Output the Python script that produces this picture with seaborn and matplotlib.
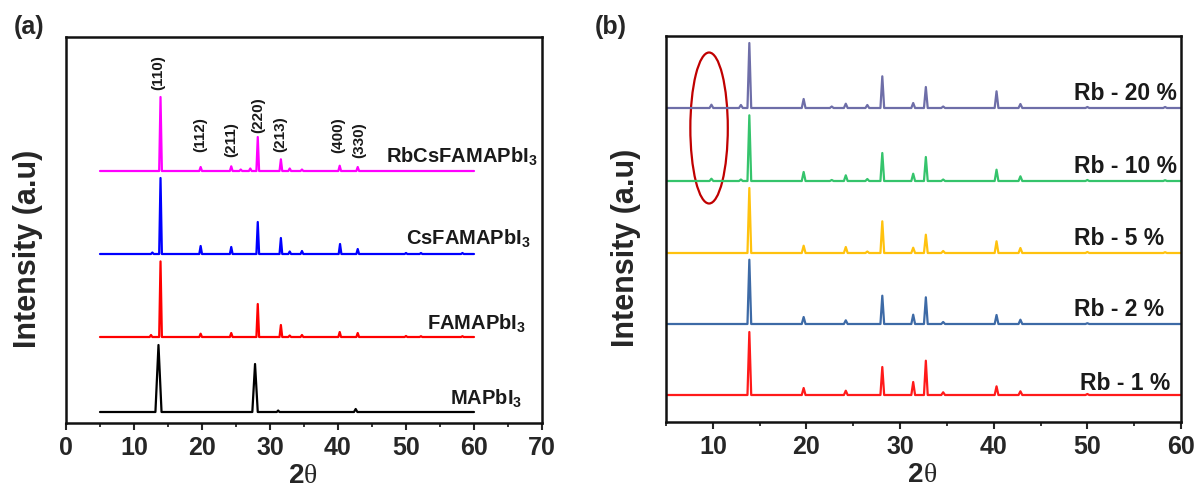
import numpy as np
import matplotlib
matplotlib.use("Agg")
import matplotlib.pyplot as plt
from matplotlib.patches import Ellipse
from matplotlib.ticker import MultipleLocator
import seaborn as sns

# ---------------- data: panel (a) ----------------
a_names = ["MAPbI$_3$", "FAMAPbI$_3$", "CsFAMAPbI$_3$", "RbCsFAMAPbI$_3$"]
a_colors = ["#000000", "#ff0000", "#0000ff", "#ff00ff"]
a_offsets = [11, 86, 169, 252]

mapbi3_pos = [13.6, 27.8, 31.2, 42.6]
mapbi3_int = [67, 48, 1.5, 3]
mapbi3_hw = [0.45, 0.4, 0.2, 0.25]

famapbi3_pos = [12.5, 13.9, 19.8, 24.3, 28.2, 31.6, 32.9, 34.7, 40.25, 42.9, 50.0, 52.2, 58.3]
famapbi3_int = [2, 75.6, 3.3, 4, 33, 12, 1.5, 2, 5, 4, 1, 0.8, 0.8]

csfamapbi3_pos = [12.7, 13.9, 19.8, 24.3, 28.2, 31.6, 32.9, 34.7, 40.3, 42.9, 50.0, 52.2, 58.3]
csfamapbi3_int = [1.5, 76, 8, 7, 32, 16, 2.5, 3, 10, 5, 1, 1, 1]

rbcsfamapbi3_pos = [13.9, 19.8, 24.3, 25.7, 27.1, 28.2, 31.6, 32.9, 34.7, 40.25, 42.9]
rbcsfamapbi3_int = [74, 4, 4.7, 1.5, 2.5, 34, 11.7, 2.5, 1.5, 5.3, 4]

hkl_labels = ["(110)", "(112)", "(211)", "(220)", "(213)", "(400)", "(330)"]
hkl_pos = [13.6, 19.8, 24.3, 28.2, 31.5, 40.0, 43.1]
hkl_label_y = [333, 271, 266, 290, 271, 270, 265]

# ---------------- data: panel (b) ----------------
b_names = ["Rb - 1 %", "Rb - 2 %", "Rb - 5 %", "Rb - 10 %", "Rb - 20 %"]
b_colors = ["#ff1a1a", "#3d6aa6", "#ffc20e", "#35c46c", "#6e6ea8"]
b_offsets = [27, 98, 169, 241, 314]

rb1_pos = [13.9, 19.7, 24.2, 28.1, 31.4, 32.75, 34.6, 40.3, 42.85, 50.0]
rb1_int = [63, 7, 4.3, 28, 13, 34.3, 2.7, 8.7, 3.7, 1]

rb2_pos = [13.9, 19.7, 24.2, 28.1, 31.4, 32.75, 34.6, 40.3, 42.85, 50.0]
rb2_int = [64.3, 7, 3.7, 28.3, 9.3, 26.7, 2, 9, 4.3, 0.8]

rb5_pos = [13.9, 19.7, 24.2, 26.5, 28.1, 31.4, 32.75, 34.6, 40.3, 42.85, 50.0, 58.3]
rb5_int = [65, 7.3, 6, 1.5, 31.7, 5.3, 18.3, 2, 11.7, 5, 1, 0.8]

rb10_pos = [9.85, 13.0, 13.9, 19.7, 22.7, 24.2, 26.5, 28.1, 31.4, 32.75, 34.6, 40.3, 42.85, 50.0, 58.3]
rb10_int = [2.3, 1.5, 65.7, 9, 1, 5.7, 2, 28, 7.3, 24, 1.5, 11.3, 4.7, 1, 0.8]

rb20_pos = [9.85, 13.0, 13.9, 19.7, 22.7, 24.2, 26.5, 28.1, 31.4, 32.75, 34.6, 40.3, 42.85, 50.0, 58.3]
rb20_int = [3.3, 3, 65, 9, 1.5, 4.3, 3, 31.7, 5, 21, 1.5, 16.7, 4, 1, 1]

b_label_x = [49.2, 48.6, 48.6, 48.6, 48.6]
b_label_y = [32, 106, 177, 249, 322]
a_label_x = [67.1, 67.6, 68.3, 69.4]
a_label_y = [18, 93, 178, 260]

scan_start, scan_end = 5.0, 60.0


def stick_trace(pos, inten, half_width=0.2):
    """Polyline through each reflection apex, returning to the baseline."""
    if np.isscalar(half_width):
        half_width = [half_width] * len(pos)
    xs, ys = [scan_start], [0.0]
    for p, h, w in zip(pos, inten, half_width):
        xs += [p - w, p, p + w]
        ys += [0.0, h, 0.0]
    xs.append(scan_end)
    ys.append(0.0)
    return np.array(xs), np.array(ys)


sns.set_style("ticks")
plt.rcParams["font.family"] = ["Liberation Sans", "DejaVu Sans"]
plt.rcParams["font.weight"] = "bold"
plt.rcParams["mathtext.fontset"] = "custom"
plt.rcParams["mathtext.rm"] = "Liberation Sans:bold"
plt.rcParams["mathtext.bf"] = "Liberation Sans:bold"
plt.rcParams["mathtext.it"] = "Liberation Sans:bold:italic"

fig = plt.figure(figsize=(12.03, 4.9), dpi=100)
ax_a = fig.add_axes([66 / 1203, 1 - 423 / 490, 476 / 1203, 386 / 490])
ax_b = fig.add_axes([666 / 1203, 1 - 422 / 490, 515 / 1203, 386 / 490])

# ---------------- panel (a) ----------------
a_series = [
    stick_trace(mapbi3_pos, mapbi3_int, mapbi3_hw),
    stick_trace(famapbi3_pos, famapbi3_int),
    stick_trace(csfamapbi3_pos, csfamapbi3_int),
    stick_trace(rbcsfamapbi3_pos, rbcsfamapbi3_int),
]
for (x, y), off, col in zip(a_series, a_offsets, a_colors):
    sns.lineplot(x=x, y=y + off, ax=ax_a, color=col, lw=1.6,
                 estimator=None, sort=False, legend=False)

for name, lx, ly in zip(a_names, a_label_x, a_label_y):
    ax_a.text(lx, ly, name, ha="right", va="baseline", fontsize=14.5,
              fontweight="bold", color="#1a1a1a")

for lab, px, py in zip(hkl_labels, hkl_pos, hkl_label_y):
    ax_a.text(px, py, lab, rotation=90, ha="center", va="bottom",
              fontsize=11, fontweight="bold", color="#1a1a1a")

ax_a.set_xlim(0, 70)
ax_a.set_ylim(0, 386)
ax_a.xaxis.set_major_locator(MultipleLocator(10))
ax_a.xaxis.set_minor_locator(MultipleLocator(5))

# ---------------- panel (b) ----------------
b_series = [
    stick_trace(rb1_pos, rb1_int),
    stick_trace(rb2_pos, rb2_int),
    stick_trace(rb5_pos, rb5_int),
    stick_trace(rb10_pos, rb10_int),
    stick_trace(rb20_pos, rb20_int),
]
for (x, y), off, col in zip(b_series, b_offsets, b_colors):
    sns.lineplot(x=x, y=y + off, ax=ax_b, color=col, lw=1.6,
                 estimator=None, sort=False, legend=False)

for name, lx, ly in zip(b_names, b_label_x, b_label_y):
    ax_b.text(lx, ly, name, ha="left", va="baseline", fontsize=16.5,
              fontweight="bold", color="#1a1a1a")

ax_b.add_patch(Ellipse((9.6, 294), width=4.0, height=151, fill=False,
                       edgecolor="#c00000", lw=1.6))

ax_b.set_xlim(5, 60)
ax_b.set_ylim(0, 386)
ax_b.xaxis.set_major_locator(MultipleLocator(10))
ax_b.xaxis.set_minor_locator(MultipleLocator(5))

# ---------------- shared axis styling ----------------
for ax, lab_x in ((ax_a, -0.048), (ax_b, -0.0485)):
    ax.set_yticks([])
    ax.set_xlabel("")
    ax.set_ylabel("Intensity (a.u)", fontsize=22, fontweight="bold")
    ax.yaxis.set_label_coords(lab_x, 0.45)
    for sp in ax.spines.values():
        sp.set_visible(True)
        sp.set_linewidth(1.8)
        sp.set_color("#111111")
    ax.tick_params(axis="x", which="major", direction="out", length=5,
                   width=1.5, labelsize=18, pad=4, top=False)
    ax.tick_params(axis="x", which="minor", direction="out", length=3,
                   width=1.3, top=False)
    for t in ax.get_xticklabels():
        t.set_fontweight("bold")
    ax.text(0.5, -0.155, "2", transform=ax.transAxes, ha="right",
            va="baseline", fontsize=20, fontweight="bold")
    ax.text(0.5, -0.155, "\u03b8", transform=ax.transAxes, ha="left",
            va="baseline", fontsize=20, fontweight="normal",
            family=["Liberation Serif", "DejaVu Serif"])

fig.text(14 / 1203, 1 - 15 / 490, "(a)", ha="left", va="top",
         fontsize=18, fontweight="bold")
fig.text(595 / 1203, 1 - 15 / 490, "(b)", ha="left", va="top",
         fontsize=18, fontweight="bold")

fig.savefig("out.png", dpi=100)
